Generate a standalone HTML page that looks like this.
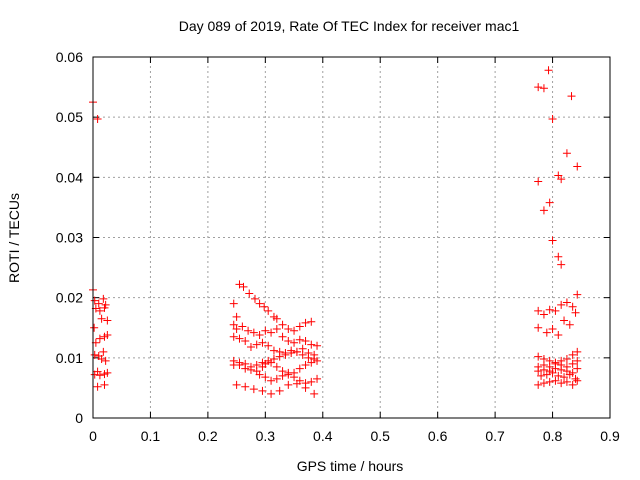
<!DOCTYPE html>
<html><head><meta charset="utf-8"><style>
body{margin:0;background:#fff;}
svg{display:block;font-family:"Liberation Sans",sans-serif;}
</style></head><body>
<svg id="chart" width="640" height="480" viewBox="0 0 640 480">
<rect x="0" y="0" width="640" height="480" fill="#fff"/>
<text x="349" y="31" font-size="14" text-anchor="middle">Day 089 of 2019, Rate Of TEC Index for receiver mac1</text>
<text x="350" y="471" font-size="14" text-anchor="middle">GPS time / hours</text>
<text x="19" y="238" font-size="14" text-anchor="middle" transform="rotate(-90 19 238)">ROTI / TECUs</text>
<g id="grid"></g><g id="ticks"></g><g id="marks"></g>
<rect x="93" y="57" width="517" height="361" fill="none" stroke="#000" stroke-width="1"/>
</svg>
<script>
const xTicks=[0,0.1,0.2,0.3,0.4,0.5,0.6,0.7,0.8,0.9];
const xTickLabels=["0","0.1","0.2","0.3","0.4","0.5","0.6","0.7","0.8","0.9"];
const yTicks=[0,0.01,0.02,0.03,0.04,0.05,0.06];
const yTickLabels=["0","0.01","0.02","0.03","0.04","0.05","0.06"];
const timeHours=[
0,0.008,0,0.003,0.01,0.018,0.022,0.005,0.012,0.02,0.015,0.025,0.002,0.02,0.012,0.025,0.005,0.018,0.003,0.01,0.015,0.022,0.008,0.02,0.003,0.012,0.025,0.02,0.008,
0.245,0.25,0.255,0.262,0.272,0.282,0.29,0.298,0.305,0.315,0.32,0.33,0.34,0.35,0.36,0.37,0.38,0.245,0.25,0.26,0.27,0.28,0.29,0.3,0.31,0.32,0.33,0.34,0.35,0.36,0.37,0.38,0.39,
0.245,0.255,0.265,0.275,0.285,0.295,0.305,0.315,0.325,0.335,0.345,0.355,0.365,0.375,0.385,0.245,0.255,0.265,0.275,0.285,0.295,0.305,0.315,0.325,0.335,0.345,0.355,0.365,0.375,0.385,
0.245,0.255,0.265,0.275,0.285,0.295,0.3,0.31,0.32,0.33,0.34,0.35,0.36,0.37,0.38,0.39,0.29,0.3,0.31,0.32,0.33,0.34,0.35,0.36,0.37,0.38,0.39,0.25,0.265,0.28,0.295,0.31,0.325,0.34,0.355,0.37,0.385,
0.775,0.785,0.793,0.8,0.833,0.825,0.843,0.775,0.81,0.815,0.795,0.785,0.8,0.81,0.815,
0.775,0.785,0.795,0.805,0.815,0.825,0.835,0.843,0.775,0.79,0.8,0.81,0.82,0.83,0.84,0.775,0.785,0.795,0.805,0.815,0.825,0.835,0.843,0.775,0.785,0.795,0.805,0.815,0.825,0.835,0.843,0.775,0.785,0.795,0.805,0.815,0.825,0.835,0.843,0.78,0.79,0.8,0.81,0.82,0.83,0.84,0.775,0.785,0.795,0.805,0.815,0.825,0.835,0.843
];
const rotiValues=[
0.0525,0.0497,0.0213,0.0195,0.019,0.0198,0.0188,0.0182,0.0178,0.0183,0.0165,0.0162,0.015,0.0135,0.0132,0.0138,0.0125,0.011,0.0105,0.0103,0.0098,0.0095,0.0077,0.0073,0.0072,0.0071,0.0075,0.0055,0.0052,
0.019,0.0168,0.0222,0.0218,0.0207,0.0198,0.019,0.0185,0.0178,0.0168,0.0165,0.0155,0.0148,0.0145,0.0152,0.0158,0.016,0.0155,0.0148,0.0152,0.0145,0.0142,0.0138,0.0145,0.0142,0.0148,0.0135,0.0128,0.0125,0.013,0.0128,0.0122,0.012,
0.0135,0.0132,0.0128,0.0118,0.0122,0.0125,0.012,0.0112,0.011,0.0108,0.0112,0.011,0.0115,0.0108,0.0105,0.0088,0.0092,0.009,0.0085,0.0088,0.0092,0.0095,0.0098,0.0102,0.0105,0.0108,0.011,0.0105,0.01,0.0098,
0.0095,0.0088,0.0082,0.008,0.0078,0.0085,0.009,0.0092,0.0085,0.0078,0.0072,0.0075,0.0082,0.0088,0.0092,0.0095,0.0072,0.0068,0.0062,0.0065,0.007,0.0075,0.0068,0.0062,0.0058,0.006,0.0065,0.0055,0.0052,0.0048,0.0045,0.004,0.0045,0.0055,0.0057,0.005,0.004,
0.0550,0.0548,0.0578,0.0497,0.0535,0.0440,0.0418,0.0393,0.0403,0.0397,0.0358,0.0345,0.0295,0.0268,0.0255,
0.0178,0.0172,0.018,0.0178,0.0188,0.0192,0.0185,0.0205,0.015,0.0142,0.0148,0.0138,0.0162,0.0155,0.0175,0.0102,0.0098,0.0095,0.0092,0.0095,0.0098,0.0105,0.011,0.0085,0.0088,0.0085,0.009,0.0088,0.0085,0.009,0.0095,0.0078,0.008,0.0078,0.0082,0.008,0.0078,0.0075,0.0082,0.007,0.0072,0.0075,0.007,0.0068,0.0072,0.0065,0.0055,0.0058,0.006,0.0062,0.0058,0.006,0.0055,0.0062,0.0048,0.0048,0.005,0.0045,0.005,0.0055,0.0048,0.0052
];
const X0=93,X1=610,Y0=418,Y1=57;
function xs(v){return X0+(v/0.9)*(X1-X0);}
function ys(v){return Y0-(v/0.06)*(Y0-Y1);}
const NS="http://www.w3.org/2000/svg";
const grid=document.getElementById('grid'),ticks=document.getElementById('ticks'),marks=document.getElementById('marks');
function mk(tag,attrs,parent){const e=document.createElementNS(NS,tag);for(const k in attrs)e.setAttribute(k,attrs[k]);parent.appendChild(e);return e;}
xTicks.forEach((t,i)=>{
  const x=xs(t);
  if(i>0&&i<xTicks.length-1){const g=mk('line',{x1:x,x2:x,y1:Y0,y2:Y1,stroke:'#a0a0a0','stroke-dasharray':'2,3'},grid);
  
  }
  mk('line',{x1:x,x2:x,y1:Y0,y2:Y0-6,stroke:'#000'},ticks);
  mk('line',{x1:x,x2:x,y1:Y1,y2:Y1+6,stroke:'#000'},ticks);
  const tx=mk('text',{x:x,y:Y0+23,'font-size':14,'text-anchor':'middle'},ticks);
  tx.textContent=xTickLabels[i];
  
  
});
yTicks.forEach((t,i)=>{
  const y=ys(t);
  if(i>0&&i<yTicks.length-1){const g=mk('line',{x1:X0,x2:X1,y1:y,y2:y,stroke:'#a0a0a0','stroke-dasharray':'2,3'},grid);
  
  }
  mk('line',{x1:X0,x2:X0+6,y1:y,y2:y,stroke:'#000'},ticks);
  mk('line',{x1:X1,x2:X1-6,y1:y,y2:y,stroke:'#000'},ticks);
  const tx=mk('text',{x:X0-10,y:y+5,'font-size':14,'text-anchor':'end'},ticks);
  tx.textContent=yTickLabels[i];
  
  
});
timeHours.forEach((t,i)=>{
  const x=xs(t),y=ys(rotiValues[i]);
  const p=mk('path',{d:`M${x-4} ${y}H${x+4}M${x} ${y-4}V${y+4}`,stroke:'#ff0000','stroke-width':1},marks);
  
  
});
</script>
</body></html>
